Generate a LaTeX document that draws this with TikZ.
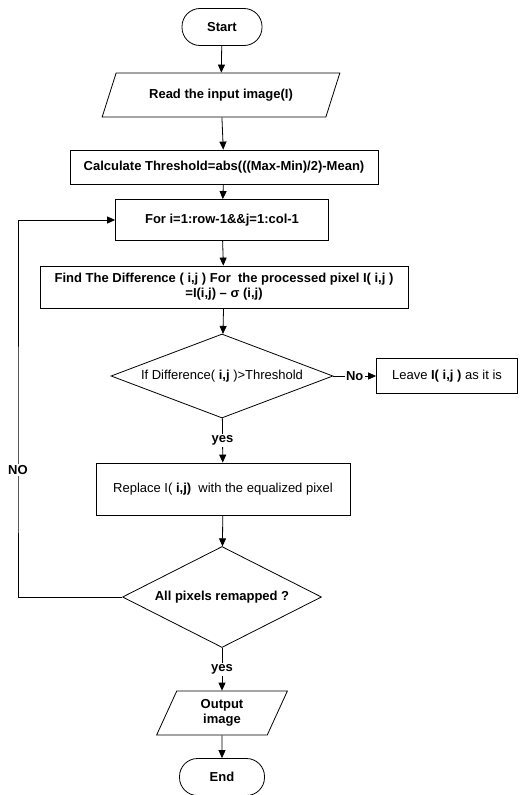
\documentclass[tikz,border=0pt]{standalone}
\usepackage{fontspec}
\setmainfont{Liberation Sans}
\usetikzlibrary{shapes.geometric,arrows.meta}

\begin{document}
\begin{tikzpicture}[x=1pt,y=-1pt,line width=0.8pt,font=\fontsize{13}{15}\selectfont]
	\tikzstyle{term}=[draw,rectangle,rounded corners=18pt,minimum height=37pt,font=\fontsize{13}{15}\selectfont\bfseries];
	\tikzstyle{proc}=[draw,rectangle,inner sep=2pt,align=center];
	\tikzstyle{io}=[draw,trapezium,trapezium stretches=true,align=center];
	\tikzstyle{test}=[draw,diamond,inner sep=1pt];
	\tikzstyle{flow}=[-{Triangle[length=8pt,width=7pt]}];
	\tikzstyle{tag}=[fill=white,inner sep=1.5pt,font=\fontsize{13}{15}\selectfont\bfseries];

	\useasboundingbox (0,0) rectangle (521,795);

	\node[term,minimum width=80pt] (start) at (222,27) {Start};
	\node[io,trapezium left angle=62,trapezium right angle=118,minimum width=238pt,minimum height=44pt] (read) at (221,95) {\bfseries Read the input image(I)};
	\node[proc,minimum width=308pt,minimum height=34pt] (thr) at (224,167) {\bfseries Calculate Threshold=abs(((Max-Min)/2)-Mean)};
	\node[proc,minimum width=213pt,minimum height=41pt] (loop) at (222,220) {\bfseries For i=1:row-1\&\&j=1:col-1};
	\node[proc,minimum width=368pt,minimum height=42pt] (diff) at (224,287) {\bfseries Find The Difference ( i,j ) For\ \ the processed pixel I( i,j )\\\bfseries =I(i,j) -- σ (i,j)};
	\node[test,aspect=2.6,minimum width=222pt,minimum height=84pt] (cmp) at (222,376) {If Difference( \textbf{i,j} )>Threshold};
	\node[proc,minimum width=141pt,minimum height=35pt] (keep) at (447,376) {Leave \textbf{I( i,j )} as it is};
	\node[proc,minimum width=254pt,minimum height=52pt] (swap) at (223,489) {Replace I( \textbf{i,j)}\ \ with the equalized pixel};
	\node[test,aspect=2,minimum width=199pt,minimum height=101pt] (done) at (222,597) {\bfseries All pixels remapped ?};
	\node[io,trapezium left angle=71,trapezium right angle=109,minimum width=131pt,minimum height=44pt,inner sep=1pt] (out) at (222,713) {\bfseries Output\\\bfseries image};
	\node[term,minimum width=85pt] (end) at (222,777) {End};

	\draw[flow] (start) -- (read);
	\draw[flow] (read) -- (thr);
	\draw[flow] (thr) -- (loop);
	\draw[flow] (loop) -- (diff);
	\draw[flow] (diff) -- (cmp);
	\draw[flow] (cmp) -- node[tag] {No} (keep);
	\draw[flow] (cmp) -- node[tag,pos=0.5] {yes} (swap);
	\draw[flow] (swap) -- (done);
	\draw[flow] (done) -- node[tag,pos=0.5] {yes} (out);
	\draw[flow] (out) -- (end);
	\draw[flow] (done.west) -| (18,470) node[tag] {NO} |- (loop.west);
\end{tikzpicture}
\end{document}
